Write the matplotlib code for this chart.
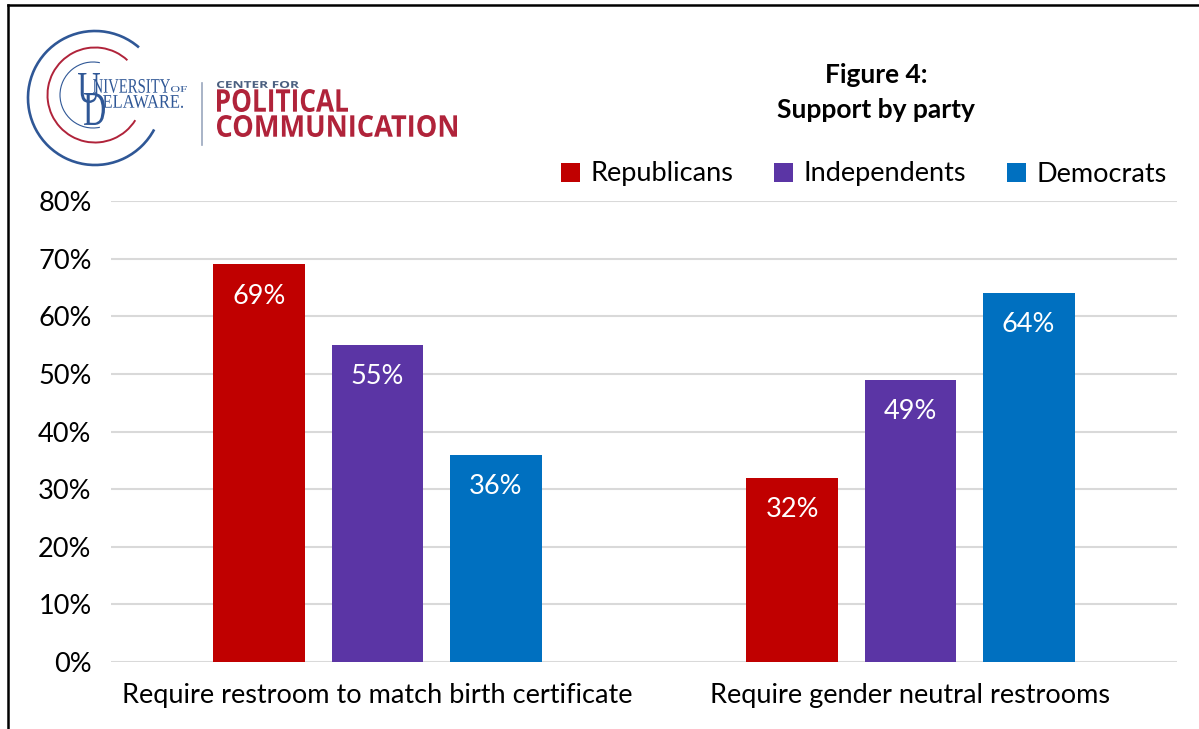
import numpy as np
import matplotlib.pyplot as plt
from matplotlib.patches import Arc, PathPatch
from matplotlib.lines import Line2D
from matplotlib.textpath import TextPath
from matplotlib.font_manager import FontProperties
from matplotlib.transforms import Affine2D

# Datos
categorias = ['Require restroom to match birth certificate', 'Require gender neutral restrooms']
partidos = ['Republicans', 'Independents', 'Democrats']
republicanos = [69, 32]
independientes = [55, 49]
democratas = [36, 64]
colores = ['#C00000', '#5B35A5', '#0070C0']

plt.rcParams['font.family'] = ['Lato', 'DejaVu Sans']


# Texto del logo ajustado a una caja (en píxeles, y hacia abajo)
def texto_caja(ax, s, x0, y_abajo, w, h, color, prop):
    tp = TextPath((0, 0), s, size=100, prop=prop)
    bb = tp.get_extents()
    tr = (Affine2D().translate(-bb.x0, -bb.y0)
          .scale(w / bb.width, -h / bb.height).translate(x0, y_abajo))
    ax.add_patch(PathPatch(tr.transform_path(tp), facecolor=color, lw=0))


fig = plt.figure(figsize=(11.99, 7.29), dpi=100)

# Ejes principales
ax = fig.add_axes([111/1199, 1 - 662/729, (1177 - 111)/1199, (662 - 201)/729])
x = np.arange(len(categorias))
ancho = 0.1726
paso = 0.2214
series = [republicanos, independientes, democratas]
barras = []
for i, (vals, col, nombre) in enumerate(zip(series, colores, partidos)):
    b = ax.bar(x + (i - 1) * paso, vals, ancho, color=col, label=nombre, zorder=3)
    barras.append(b)
    for rect, v in zip(b, vals):
        ax.text(rect.get_x() + rect.get_width() / 2, v - 5.5, f'{v}%',
                ha='center', va='center', color='white', fontsize=19.5, zorder=4)

ax.set_xlim(-0.5, 1.5)
ax.set_ylim(0, 80)
ax.set_yticks(range(0, 81, 10))
ax.set_yticklabels([f'{t}%' for t in range(0, 81, 10)], fontsize=19.5)
ax.set_xticks(x)
ax.set_xticklabels(categorias, fontsize=19.5)
ax.tick_params(length=0, pad=14)
ax.tick_params(axis='x', pad=15)
ax.grid(axis='y', color='#D9D9D9', linewidth=1.5, zorder=0)
for s in ax.spines.values():
    s.set_visible(False)

fig.legend(handles=barras, labels=partidos, loc='center', ncol=3,
           bbox_to_anchor=(864/1199, 1 - 174/729), frameon=False, fontsize=19.5,
           handlelength=0.7, handleheight=0.7, handletextpad=0.4, columnspacing=1.5)

# Título
fig.text(876/1199, 1 - 75/729, 'Figure 4:', ha='center', va='center',
         fontsize=19, fontweight='bold')
fig.text(876/1199, 1 - 110/729, 'Support by party', ha='center', va='center',
         fontsize=19, fontweight='bold')

# Capa en píxeles para el marco y el logo
ov = fig.add_axes([0, 0, 1, 1], zorder=-1)
ov.set_xlim(0, 1199)
ov.set_ylim(729, 0)
ov.axis('off')
ov.add_line(Line2D([8, 8], [5, 740], color='black', lw=1.8))
ov.add_line(Line2D([8, 1210], [5, 5], color='black', lw=1.8))

azul = '#2F5796'
rojo = '#B0233A'
cx, cy = 95, 98
ov.add_patch(Arc((cx, cy), 134, 134, theta1=28, theta2=311, color=azul, lw=1.9))
ov.add_patch(Arc((cx, cy - 3), 95, 95, theta1=32, theta2=313, color=rojo, lw=1.4))
ov.add_patch(Arc((cx - 2, cy - 3), 66, 66, theta1=78, theta2=282, color=azul, lw=0.8))

serif = FontProperties(family='Liberation Serif')
sans = FontProperties(family='Open Sans', weight='bold')
texto_caja(ov, 'U', 78, 103, 22, 30, azul, serif)
texto_caja(ov, 'D', 84, 125, 21, 32, azul, serif)
texto_caja(ov, 'NIVERSITY', 93, 93, 77, 14, azul, serif)
texto_caja(ov, 'OF', 171, 92, 16, 6, azul, serif)
texto_caja(ov, 'ELAWARE.', 103, 108, 80, 13, azul, serif)
ov.add_line(Line2D([202, 202], [83, 145], color='#9AA7BD', lw=1.2))
texto_caja(ov, 'CENTER FOR', 217, 88, 82, 7, '#4A5F80', sans)
texto_caja(ov, 'POLITICAL', 217, 112, 131, 23, rojo, sans)
texto_caja(ov, 'COMMUNICATION', 217, 137, 240, 22, rojo, sans)

fig.savefig('out.png', dpi=100)
